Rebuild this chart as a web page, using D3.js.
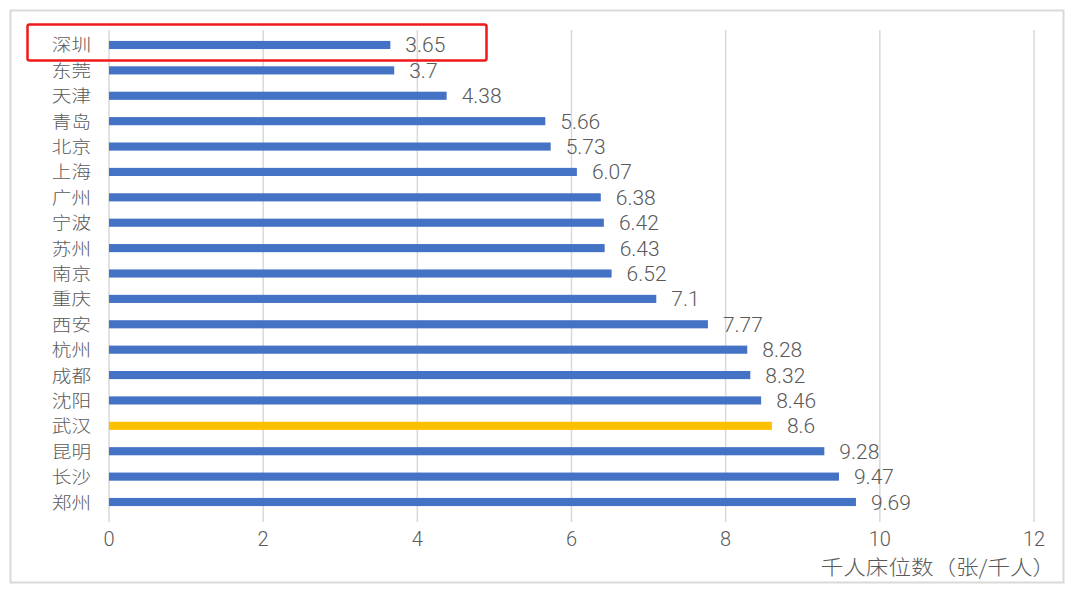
<!DOCTYPE html>
<html><head><meta charset="utf-8">
<script src="https://cdn.jsdelivr.net/npm/d3@7"></script>
<style>body{margin:0;background:#fff;} svg{display:block;}
text{font-family:"Noto Sans CJK SC","Noto Sans",sans-serif;font-weight:300;}
text.num{font-family:Roboto,"Liberation Sans",sans-serif;font-weight:300;}</style>
</head><body><svg id="c" width="1080" height="590"></svg>
<script>
const cities = ["深圳","东莞","天津","青岛","北京","上海","广州","宁波","苏州","南京","重庆","西安","杭州","成都","沈阳","武汉","昆明","长沙","郑州"];
const beds = [3.65,3.7,4.38,5.66,5.73,6.07,6.38,6.42,6.43,6.52,7.1,7.77,8.28,8.32,8.46,8.6,9.28,9.47,9.69];
const highlight = ["武汉"];
const xTicks = [0,2,4,6,8,10,12];
const axisTitle = "千人床位数（张/千人）";

const svg = d3.select("#c");
const x = d3.scaleLinear().domain([0,12]).range([109,1034]);
const y = d3.scaleBand().domain(cities).range([32.3,514.7]).paddingInner(0.68).paddingOuter(0.34);

// frame
svg.append("rect").attr("x",10.5).attr("y",10.5).attr("width",1053).attr("height",572)
  .attr("fill","#fff").attr("stroke","#d9d9d9").attr("stroke-width",2);

// grid
svg.append("g").selectAll("line").data(xTicks).join("line")
  .attr("x1",d=>x(d)).attr("x2",d=>x(d)).attr("y1",30).attr("y2",522)
  .attr("stroke","#d9d9d9").attr("stroke-width",1.5);

// tick labels
svg.append("g").selectAll("text").data(xTicks).join("text").attr("class","num")
  .attr("x",d=>x(d)).attr("y",546).attr("text-anchor","middle")
  .attr("font-size",20).attr("fill","#595959").text(d=>d);

// bars
svg.append("g").selectAll("rect").data(cities).join("rect")
  .attr("x",x(0)).attr("y",d=>y(d)).attr("height",y.bandwidth())
  .attr("width",(d,i)=>x(beds[i])-x(0))
  .attr("fill",d=>highlight.includes(d)?"#FFC000":"#4472C4");

// value labels
svg.append("g").selectAll("text").data(cities).join("text").attr("class","num")
  .attr("x",(d,i)=>x(beds[i])+15).attr("y",d=>y(d)+y.bandwidth()/2+7.5)
  .attr("font-size",21).attr("fill","#595959").text((d,i)=>beds[i]);

// category labels
svg.append("g").selectAll("text").data(cities).join("text")
  .attr("transform",d=>`translate(91,${y(d)+y.bandwidth()/2+6.5}) scale(1.12,1)`).attr("text-anchor","end")
  .attr("font-size",17.5).attr("fill","#595959").text(d=>d);

// axis title
svg.append("text").attr("transform","translate(1055,575) scale(1.1,1)").attr("text-anchor","end")
  .attr("font-size",20.5).attr("fill","#595959").text(axisTitle);

// red highlight box
svg.append("rect").attr("x",27.5).attr("y",24.5).attr("width",459).attr("height",36).attr("rx",2)
  .attr("fill","none").attr("stroke","#f01a1a").attr("stroke-width",2.5);
</script></body></html>
